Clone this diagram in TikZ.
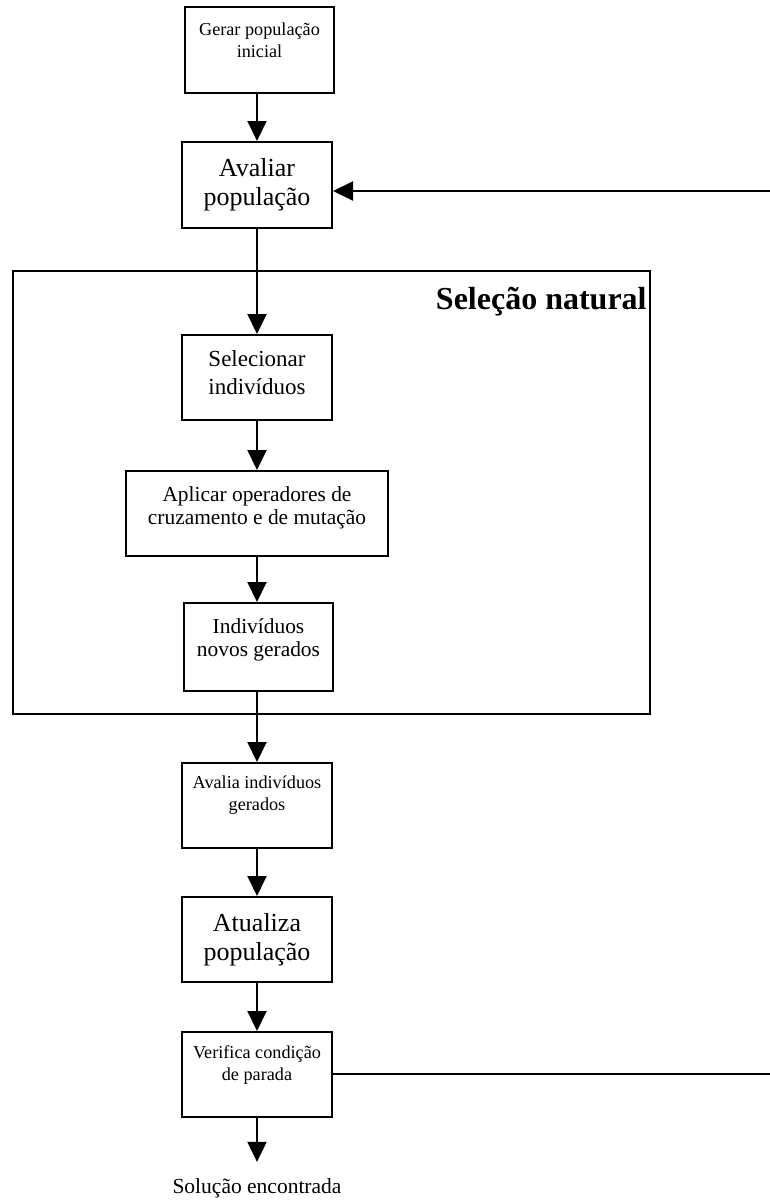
\documentclass[tikz,border=0pt]{standalone}
\usepackage{fontspec}
\setmainfont{Liberation Serif}
\usepackage{tikz}
\usetikzlibrary{arrows.meta}

\tikzset{
	bloco/.style={draw,line width=1pt,minimum width=75pt,minimum height=42.5pt,align=center,inner sep=0pt},
	pequeno/.style={bloco,font=\fontsize{9.1}{11}\selectfont},
	medio/.style={bloco,font=\fontsize{10.7}{11.5}\selectfont},
	grande/.style={bloco,font=\fontsize{13}{14.5}\selectfont},
	seta/.style={line width=1pt,-{Triangle[length=10pt,width=9.5pt]}},
	linha/.style={line width=1pt}
}

\begin{document}
\begin{tikzpicture}[x=0.5pt,y=-0.5pt]

	\useasboundingbox (0,0) rectangle (770,1200);

	% caixa da selecao natural
	\node[draw,line width=1pt,minimum width=318.5pt,minimum height=221.5pt,inner sep=0pt] (selecao) at (331.5,492.5) {};
	\node[font=\fontsize{16}{18}\selectfont\bfseries,anchor=base east,inner sep=0pt] (titulo) at (647,309) {Seleção natural};

	\node[pequeno,minimum width=74.5pt,minimum height=43pt,text depth=10pt] (gerar) at (259.5,50) {Gerar população\\inicial};
	\node[grande,minimum height=43pt,text depth=3pt] (avaliar) at (257,185) {Avaliar\\população};
	\node[bloco,font=\fontsize{11.5}{14}\selectfont,text depth=4.5pt] (selecionar) at (257,377.5) {Selecionar\\indivíduos};
	\node[medio,minimum width=131pt,text depth=8pt] (aplicar) at (257,513.5) {Aplicar operadores de\\cruzamento e de mutação};
	\node[medio,minimum width=74.5pt,minimum height=44pt,text depth=9.5pt] (novos) at (258.5,647) {Indivíduos\\novos gerados};
	\node[pequeno,text depth=12.5pt] (avalia) at (257,805.5) {Avalia indivíduos\\gerados};
	\node[grande,text depth=3pt] (atualiza) at (257,939.5) {Atualiza\\população};
	\node[pequeno,text depth=11.5pt] (verifica) at (257,1074.5) {Verifica condição\\de parada};
	\node[font=\fontsize{10.75}{12}\selectfont,inner ysep=8pt] (solucao) at (257,1188) {Solução encontrada};

	\coordinate (retornoA) at (770,191);
	\coordinate (retornoB) at (770,1074);

	\draw[seta] (gerar.south -| avaliar) -- (avaliar);
	\draw[seta] (avaliar) -- (selecionar);
	\draw[seta] (selecionar) -- (aplicar);
	\draw[seta] (aplicar) -- (aplicar.south |- novos.north);
	\draw[seta] (novos.south -| avalia) -- (avalia);
	\draw[seta] (avalia) -- (atualiza);
	\draw[seta] (atualiza) -- (verifica);
	\draw[seta] (verifica) -- (solucao);
	\draw[linha] (verifica.east |- retornoB) -- (retornoB);
	\draw[seta] (retornoA) -- (retornoA -| avaliar.east);

\end{tikzpicture}
\end{document}
